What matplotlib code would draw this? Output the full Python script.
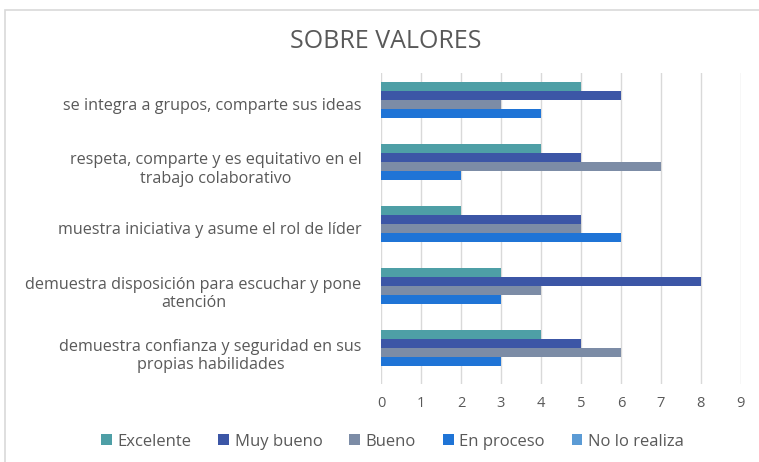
import matplotlib
matplotlib.use("Agg")
import matplotlib.pyplot as plt
import numpy as np
from matplotlib.patches import Rectangle

categories = [
    "demuestra confianza y seguridad en sus\npropias habilidades",
    "demuestra disposición para escuchar y pone\natención",
    "muestra iniciativa y asume el rol de líder",
    "respeta, comparte y es equitativo en el\ntrabajo colaborativo",
    "se integra a grupos, comparte sus ideas",
]
series_names = ["Excelente", "Muy bueno", "Bueno", "En proceso", "No lo realiza"]
excelente = [4, 3, 2, 4, 5]
muy_bueno = [5, 8, 5, 5, 6]
bueno = [6, 4, 5, 7, 3]
en_proceso = [3, 3, 6, 2, 4]
no_lo_realiza = [0, 0, 0, 0, 0]
colors = ["#4E9FA6", "#3C56A6", "#7C8CA6", "#1F74D6", "#5B9BD5"]
xticks = list(range(0, 10))

plt.rcParams['font.family'] = ['Open Sans', 'DejaVu Sans']
fig = plt.figure(figsize=(7.59, 4.62), dpi=100)
fig.patches.append(Rectangle((0.007, -0.05), 1.1, 1.028, transform=fig.transFigure,
                             fill=False, edgecolor="#D9D9D9", linewidth=1.2))
ax = fig.add_axes([0.502, 0.169, 0.474, 0.673])

data = [excelente, muy_bueno, bueno, en_proceso, no_lo_realiza]
y = np.arange(len(categories))
h = 0.145
offsets = [2, 1, 0, -1, -2]
for vals, name, c, o in zip(data, series_names, colors, offsets):
    ax.barh(y + o * h, vals, height=h, color=c, label=name, zorder=3)

ax.set_xlim(0, 9)
ax.set_ylim(-0.5, 4.5)
ax.set_xticks(xticks)
ax.set_yticks(y)
ax.set_yticklabels(categories, multialignment="center", fontsize=11.6)
ax.tick_params(axis="both", length=0, colors="#595959")
ax.tick_params(axis="x", pad=9, labelsize=10.5)
ax.tick_params(axis="y", pad=14)
ax.grid(axis="x", color="#D9D9D9", linewidth=1, zorder=0)
for s in ax.spines.values():
    s.set_visible(False)

fig.text(0.508, 0.91, "SOBRE VALORES", ha="center", va="center", fontsize=18, color="#595959")
handles, labels = ax.get_legend_handles_labels()
fig.legend(handles, labels, loc="center", bbox_to_anchor=(0.517, 0.044), ncol=5, frameon=False,
           fontsize=12, labelcolor="#595959", handlelength=0.65, handleheight=0.65,
           columnspacing=1.6, handletextpad=0.35)

fig.savefig("out.png", dpi=100)
